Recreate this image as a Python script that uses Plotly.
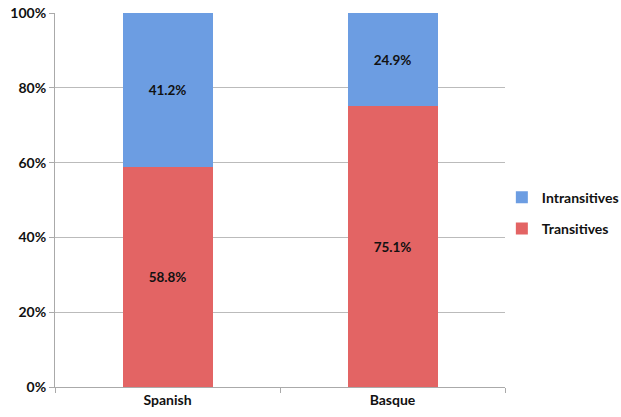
import plotly.graph_objects as go

languages = ["Spanish", "Basque"]
transitives = [58.8, 75.1]
intransitives = [41.2, 24.9]
y_ticks = [0, 20, 40, 60, 80, 100]
y_tick_labels = ["0%", "20%", "40%", "60%", "80%", "100%"]

FONT = "Lato"

fig = go.Figure()
fig.add_trace(go.Bar(
    x=languages, y=transitives, name="Transitives", legendgroup="t", legendrank=2,
    marker=dict(color="#E36464", line=dict(width=0)),
    text=[f"{v:.1f}%" for v in transitives], textposition="inside",
    insidetextanchor="middle",
    textfont=dict(family=FONT, size=13.5, color="#111111", weight="bold"),
    width=0.4,
))
fig.add_trace(go.Bar(
    x=languages, y=intransitives, name="Intransitives", legendgroup="i", legendrank=1,
    marker=dict(color="#6C9DE2", line=dict(width=0)),
    text=[f"{v:.1f}%" for v in intransitives], textposition="inside",
    insidetextanchor="middle",
    textfont=dict(family=FONT, size=13.5, color="#111111", weight="bold"),
    width=0.4,
))

fig.update_layout(
    barmode="stack",
    width=621, height=417,
    margin=dict(l=55, r=116, t=13, b=30, autoexpand=False),
    plot_bgcolor="white", paper_bgcolor="white",
    font=dict(family=FONT, size=14, color="#111111"),
    showlegend=True,
    uniformtext=dict(minsize=8, mode="show"),
    legend=dict(
        x=0.993, y=0.465, xanchor="left", yanchor="middle",
        traceorder="grouped",
        font=dict(family=FONT, size=14, color="#111111", weight="bold"),
        itemwidth=30, tracegroupgap=10,
        bgcolor="rgba(0,0,0,0)",
    ),
    xaxis=dict(
        showgrid=False, showline=True, linecolor="#AAAAAA", linewidth=1,
        ticks="outside", tickson="boundaries", ticklen=5, tickcolor="#AAAAAA",
        tickfont=dict(family=FONT, size=14, weight="bold"),
        range=[-0.5, 1.5], automargin=False,
    ),
    yaxis=dict(
        range=[0, 100], tickvals=y_ticks, ticktext=y_tick_labels,
        showgrid=True, gridcolor="#BBBBBB", gridwidth=1,
        showline=True, linecolor="#AAAAAA", linewidth=1,
        ticks="outside", ticklen=5, tickcolor="#AAAAAA",
        tickfont=dict(family=FONT, size=14, weight="bold"),
        zeroline=False, automargin=False,
    ),
)

fig.write_html("out.html", config={"displayModeBar": False},
               post_script="document.body.style.margin='0';")
